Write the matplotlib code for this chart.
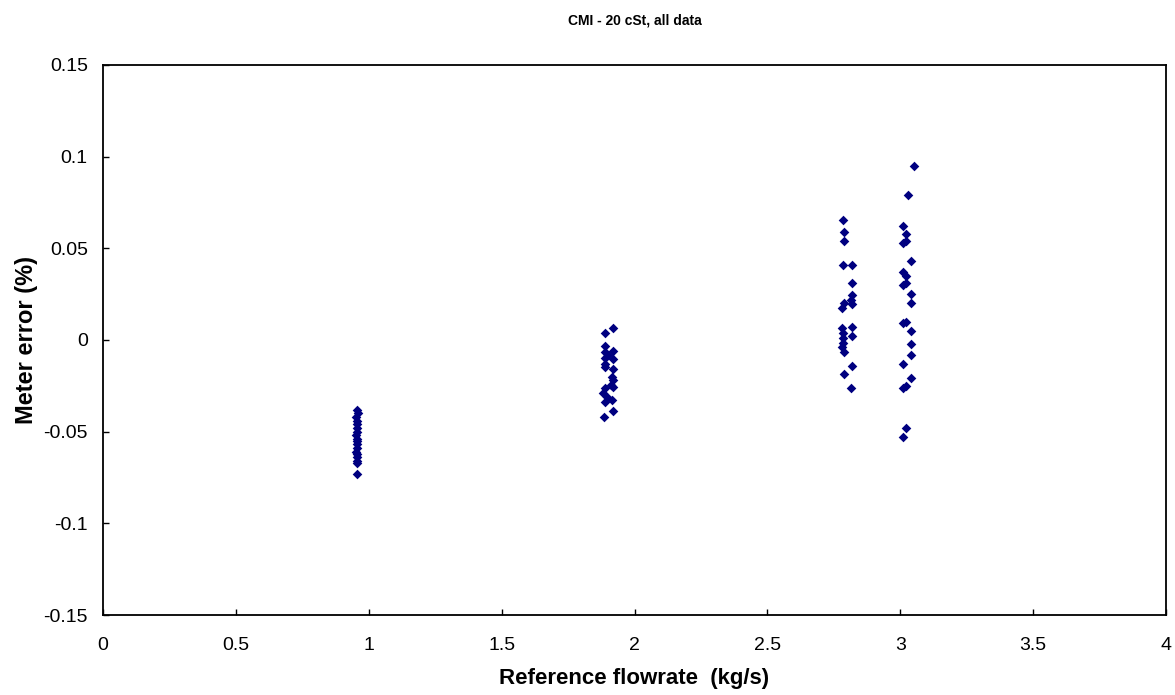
import matplotlib.pyplot as plt

plt.rcParams['font.family'] = ['Liberation Sans', 'DejaVu Sans']

# reference flowrate (kg/s) and meter error (%) per test point, grouped by nominal flow
flow1 = [0.955, 0.958, 0.953, 0.956, 0.954, 0.957, 0.955, 0.953, 0.956, 0.954,
         0.957, 0.955, 0.953, 0.956, 0.954, 0.957, 0.955, 0.955]
err1 = [-0.038, -0.040, -0.042, -0.044, -0.046, -0.048, -0.050, -0.052, -0.054,
        -0.055, -0.057, -0.059, -0.061, -0.062, -0.064, -0.066, -0.067, -0.073]

flow2 = [1.92, 1.89, 1.89, 1.89, 1.92, 1.90, 1.89, 1.92, 1.89, 1.89, 1.92,
         1.915, 1.92, 1.91, 1.92, 1.89, 1.88, 1.895, 1.915, 1.89, 1.92, 1.885]
err2 = [0.0065, 0.004, -0.0035, -0.0065, -0.006, -0.008, -0.010, -0.0105, -0.013,
        -0.0145, -0.016, -0.020, -0.022, -0.0245, -0.0255, -0.026, -0.029, -0.031,
        -0.033, -0.034, -0.039, -0.042]

flow3 = [2.785, 2.79, 2.79, 2.785, 2.82, 2.82, 2.82, 2.815, 2.82, 2.79, 2.78,
         2.82, 2.78, 2.785, 2.82, 2.785, 2.785, 2.78, 2.79, 2.82, 2.79, 2.815]
err3 = [0.0655, 0.059, 0.054, 0.041, 0.041, 0.031, 0.0245, 0.022, 0.0195, 0.020,
        0.0175, 0.007, 0.0065, 0.004, 0.002, 0.001, -0.0015, -0.004, -0.0065,
        -0.014, -0.0185, -0.026]

flow4 = [3.05, 3.03, 3.01, 3.02, 3.02, 3.01, 3.04, 3.01, 3.02, 3.02, 3.01, 3.04,
         3.04, 3.02, 3.01, 3.04, 3.04, 3.04, 3.01, 3.04, 3.02, 3.01, 3.02, 3.01]
err4 = [0.095, 0.079, 0.062, 0.058, 0.054, 0.053, 0.043, 0.037, 0.035, 0.031,
        0.030, 0.025, 0.020, 0.010, 0.009, 0.005, -0.002, -0.008, -0.013, -0.021,
        -0.025, -0.026, -0.048, -0.053]

flow = flow1 + flow2 + flow3 + flow4
err = err1 + err2 + err3 + err4

fig = plt.figure(figsize=(11.75, 6.95), dpi=100)
ax = fig.add_axes([0.0877, 0.1151, 0.9046, 0.7914])

ax.scatter(flow, err, marker='D', s=24, color='#000080', linewidths=0, zorder=3)

ax.set_xlim(0, 4)
ax.set_ylim(-0.15, 0.15)
ax.set_xticks([0, 0.5, 1, 1.5, 2, 2.5, 3, 3.5, 4])
ax.set_xticklabels(['0', '0.5', '1', '1.5', '2', '2.5', '3', '3.5', '4'])
ax.set_yticks([-0.15, -0.1, -0.05, 0, 0.05, 0.1, 0.15])
ax.set_yticklabels(['-0.15', '-0.1', '-0.05', '0', '0.05', '0.1', '0.15'])
ax.tick_params(direction='in', length=4, width=1, labelsize=14)
ax.tick_params(axis='x', pad=16)
ax.tick_params(axis='y', pad=11)
for sp in ax.spines.values():
    sp.set_linewidth(1.3)

ax.set_title('CMI - 20 cSt, all data', fontsize=10, fontweight='bold', pad=29)
ax.set_xlabel('Reference flowrate  (kg/s)', fontsize=16, fontweight='bold', labelpad=10)
ax.set_ylabel('Meter error (%)', fontsize=17, fontweight='bold', labelpad=4)

fig.savefig('out.png', dpi=100)
